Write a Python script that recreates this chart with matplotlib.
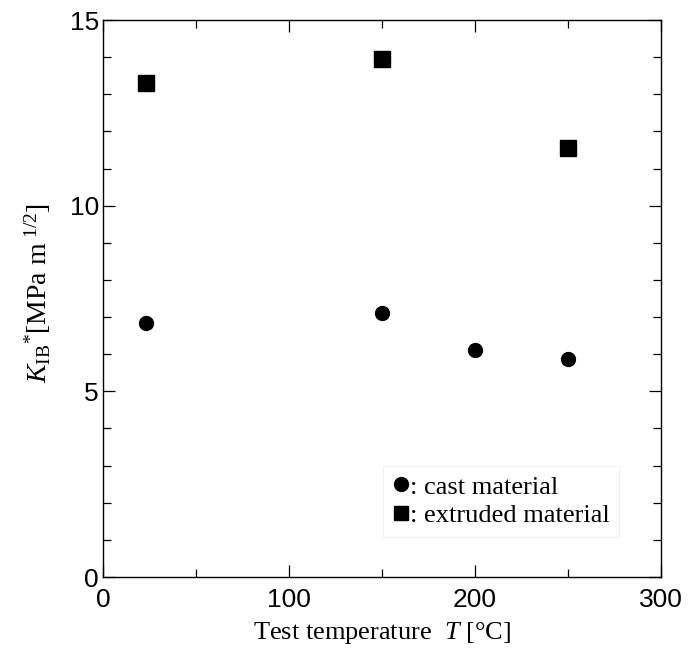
"""Fracture toughness K_IB* versus test temperature for cast and extruded material."""

import matplotlib

matplotlib.use("Agg")
import matplotlib.pyplot as plt
from matplotlib.lines import Line2D
from matplotlib.ticker import MultipleLocator

SERIF = "Liberation Serif"
SANS = "Liberation Sans"

# data
cast_temp = [23, 150, 200, 250]
cast_kib = [6.85, 7.1, 6.12, 5.88]
extruded_temp = [23, 150, 250]
extruded_kib = [13.3, 13.94, 11.54]

plt.rcParams.update(
    {
        "font.family": "serif",
        "font.serif": [SERIF, "DejaVu Serif"],
        "mathtext.fontset": "custom",
        "mathtext.rm": SERIF,
        "mathtext.it": SERIF + ":italic",
        "mathtext.bf": SERIF + ":bold",
    }
)

fig = plt.figure(figsize=(6.89, 6.58), dpi=100)
ax = fig.add_axes([0.1495, 0.1231, 0.8095, 0.8465])

ax.plot(cast_temp, cast_kib, "o", color="black", ms=10, ls="none")
ax.plot(extruded_temp, extruded_kib, "s", color="black", ms=11.5, ls="none")

ax.set_xlim(0, 300)
ax.set_ylim(0, 15)
ax.xaxis.set_major_locator(MultipleLocator(100))
ax.xaxis.set_minor_locator(MultipleLocator(50))
ax.yaxis.set_major_locator(MultipleLocator(5))
ax.yaxis.set_minor_locator(MultipleLocator(1))
ax.tick_params(which="both", direction="in", top=True, right=True, width=0.9)
ax.tick_params(which="major", length=8.5)
ax.tick_params(which="minor", length=6)
ax.tick_params(axis="x", which="major", pad=8)
ax.tick_params(axis="y", which="major", pad=3)
for lab in ax.get_xticklabels() + ax.get_yticklabels():
    lab.set_fontfamily(SANS)
    lab.set_fontsize(19)
for side in ax.spines.values():
    side.set_linewidth(1.0)

ax.set_xlabel(r"Test temperature  $T$ [°C]", fontsize=19, labelpad=6)
ax.set_ylabel(r"$K_{\mathrm{IB}}{}^{*}$[MPa m$\;^{1/2}$]", fontsize=20)
ax.yaxis.set_label_coords(-0.09, 0.51)

handles = [
    Line2D([], [], marker="o", color="black", ms=10, ls="none"),
    Line2D([], [], marker="s", color="black", ms=9.5, ls="none"),
]
leg = ax.legend(
    handles,
    [": cast material", ": extruded material"],
    loc="lower left",
    bbox_to_anchor=(0.479, 0.049),
    fontsize=19,
    handlelength=0.6,
    handletextpad=0.05,
    labelspacing=0.2,
    borderpad=0.35,
    fancybox=False,
    framealpha=1,
)
leg.get_frame().set_edgecolor("#f2f2f2")
leg.get_frame().set_linewidth(0.8)

fig.savefig("out.png", dpi=100)
